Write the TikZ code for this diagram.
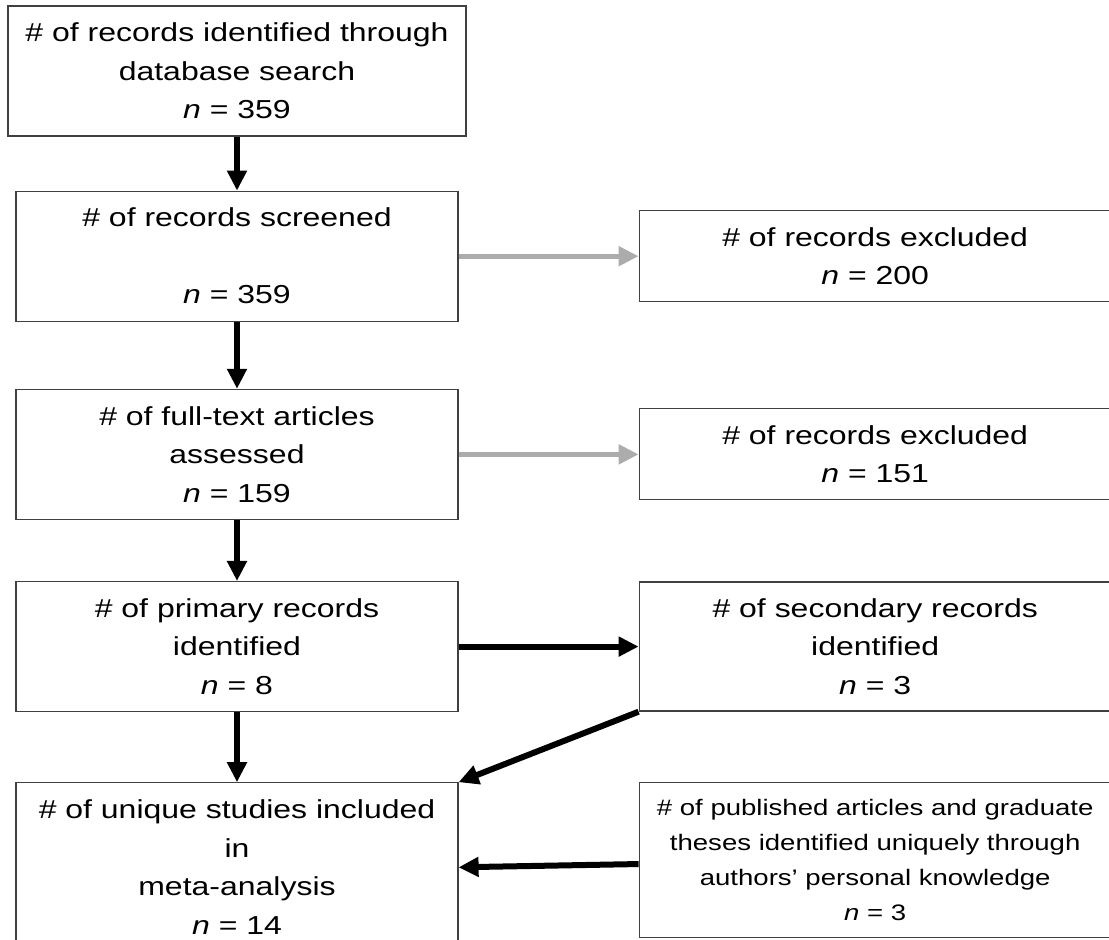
\documentclass[tikz,border=0pt]{standalone}
\usepackage{fontspec}
\setmainfont{Liberation Sans}[FakeStretch=1.23]
\usetikzlibrary{positioning,arrows.meta}

\definecolor{boxline}{RGB}{64,64,64}
\definecolor{skipgray}{RGB}{172,172,172}

\begin{document}
\begin{tikzpicture}[x=0.5pt, y=-0.5pt, node distance=30pt,
  main box/.style={rectangle, draw=boxline, line width=0.6pt, align=center, inner sep=0pt,
    minimum width=221pt, minimum height=65pt, font=\fontsize{13pt}{19.25pt}\selectfont},
  side box/.style={main box, minimum width=236pt, minimum height=45.5pt},
  note box/.style={side box, minimum height=77.5pt, font=\fontsize{11.2pt}{17.5pt}\selectfont},
  flow/.style={line width=3pt, -{Triangle[length=10pt, width=9.5pt]}},
  skip/.style={color=skipgray, line width=2.5pt, -{Triangle[length=10pt, width=9.5pt]}}]

  \useasboundingbox (0,0) rectangle (1109,940);

  % Define nodes
  \node[main box, minimum width=229pt] (found) at (237,71) {\# of records identified through\\database search\\\textit{n} = 359};
  \node[main box] (screened) [below=27pt of found] {\# of records screened\\[19.25pt]\textit{n} = 359};
  \node[main box] (assessed) [below=33.5pt of screened] {\# of full-text articles\\assessed\\\textit{n} = 159};
  \node[main box] (primary) [below=30.5pt of assessed] {\# of primary records\\identified\\\textit{n} = 8};
  \node[main box, minimum height=84.5pt] (unique) [below=35pt of primary] {\# of unique studies included\\in\\meta-analysis\\\textit{n} = 14};

  \node[side box] (excl1) [right=90pt of screened] {\# of records excluded\\\textit{n} = 200};
  \node[side box] (excl2) [right=90pt of assessed] {\# of records excluded\\\textit{n} = 151};
  \node[side box, minimum height=64.5pt] (secondary) [right=90pt of primary] {\# of secondary records\\identified\\\textit{n} = 3};
  \node[note box] (known) [below=35pt of secondary] {\# of published articles and graduate\\theses identified uniquely through\\authors’ personal knowledge\\\textit{n} = 3};

  % Define edges
  \path[flow]
    (found) edge (screened)
    (screened) edge (assessed)
    (assessed) edge (primary)
    (primary) edge (unique)
    (primary) edge (secondary)
    (secondary.south west) edge (unique.north east)
    (known) edge (unique.east);
  \path[skip]
    (screened) edge (excl1)
    (assessed) edge (excl2);
\end{tikzpicture}
\end{document}
